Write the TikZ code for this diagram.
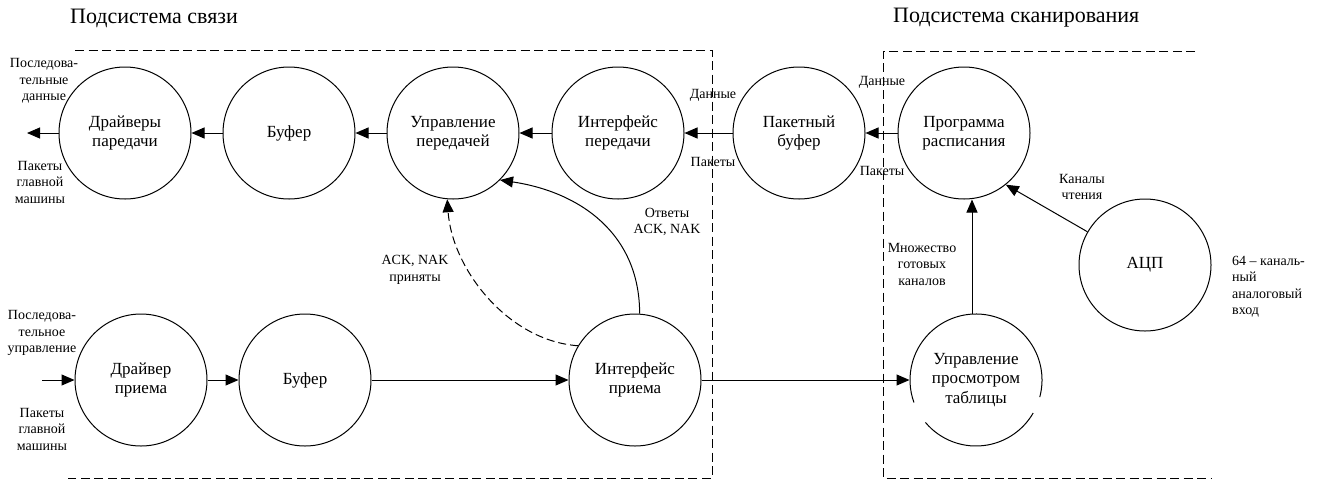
\documentclass[tikz,border=0pt]{standalone}
\usepackage{fontspec}
\setmainfont{Liberation Serif}
\usetikzlibrary{arrows.meta}
\begin{document}
\begin{tikzpicture}[x=1pt,y=-1pt,
 proc/.style={circle,draw,line width=1pt,minimum size=132pt,inner sep=0pt,align=center,font=\fontsize{17}{19.5}\selectfont},
 lbl/.style={align=center,font=\fontsize{14}{16.5}\selectfont,inner sep=0pt},
 flow/.style={line width=1pt,-{Triangle[length=13pt,width=11pt]}},
 box/.style={line width=1pt,dash pattern=on 9pt off 4.5pt},
 dflow/.style={flow,dash pattern=on 8pt off 4pt},
 ttl/.style={font=\fontsize{22}{26}\selectfont,anchor=west,inner sep=0pt}]
\useasboundingbox (0,0) rectangle (1323,483);
% titles
\node[ttl] (t1) at (70,18) {Подсистема связи};
\node[ttl] (t2) at (893,18) {Подсистема сканирования};
% boxes
\draw[box] (75,50) -- (712,50) -- (712,478) -- (68,478);
\draw[box] (1195,51) -- (883,51) -- (883,478) -- (1212,478);
% processes
\node[proc] (drv) at (125,133) {Драйверы\\паредачи};
\node[proc] (buf1) at (289,133) {Буфер};
\node[proc] (ctl) at (453,133) {Управление\\передачей};
\node[proc] (ifo) at (618,133) {Интерфейс\\передачи};
\node[proc] (pkt) at (799,133) {Пакетный\\буфер};
\node[proc] (sch) at (964,133) {Программа\\расписания};
\node[proc] (adc) at (1145,265) {АЦП};
\node[proc,draw=none] (tbl) at (976,380) {Управление\\просмотром\\таблицы};
\draw[line width=1pt] (tbl.center) ++(140:66) arc[start angle=140,end angle=30,radius=66];
\draw[line width=1pt] (tbl.center) ++(15:66) arc[start angle=15,end angle=-200,radius=66];
\node[proc] (rdv) at (141,380) {Драйвер\\приема};
\node[proc] (buf2) at (305,380) {Буфер};
\node[proc] (ifi) at (635,380) {Интерфейс\\приема};
% free ends
\coordinate (outL) at (27,133);
\coordinate (inL) at (42,380);
% flows
\draw[flow] (drv) -- (outL);
\draw[flow] (buf1) -- (drv);
\draw[flow] (ctl) -- (buf1);
\draw[flow] (ifo) -- (ctl);
\draw[flow] (pkt) -- (ifo);
\draw[flow] (sch) -- (pkt);
\draw[flow] (inL) -- (rdv);
\draw[flow] (rdv) -- (buf2);
\draw[flow] (buf2) -- (ifi);
\draw[flow] (ifi) -- (tbl);
\draw[flow] ([xshift=-4pt]tbl.north) -- ([xshift=8pt]sch.south);
\draw[flow] (adc.150) -- (sch.-51);
\draw[flow] (ifi.86) .. controls +(0,-80) and +(80,12) .. (ctl.-45);
\draw[dflow] (ifi.149) .. controls +(-70,-5) and +(5,70) .. (ctl.265);
% labels
\node[lbl] (l1) at (44,81) {Последова-\\тельные\\данные};
\node[lbl] (l2) at (40,182) {Пакеты\\главной\\машины};
\node[lbl] (l3) at (713,95) {Данные};
\node[lbl] (l4) at (713,162) {Пакеты};
\node[lbl] (l5) at (882,82) {Данные};
\node[lbl] (l6) at (882,171) {Пакеты};
\node[lbl] (l7) at (667,222) {Ответы\\ACK, NAK};
\node[lbl] (l8) at (415,270) {ACK, NAK\\приняты};
\node[lbl] (l9) at (1082,187) {Каналы\\чтения};
\node[lbl] (l10) at (922,264) {Множество\\готовых\\каналов};
\node[lbl,align=left,anchor=north west] (l11) at (1232,256) {64 – каналь-\\ный\\аналоговый\\вход};
\node[lbl] (l12) at (42,333) {Последова-\\тельное\\управление};
\node[lbl] (l13) at (42,429) {Пакеты\\главной\\машины};
\end{tikzpicture}
\end{document}
